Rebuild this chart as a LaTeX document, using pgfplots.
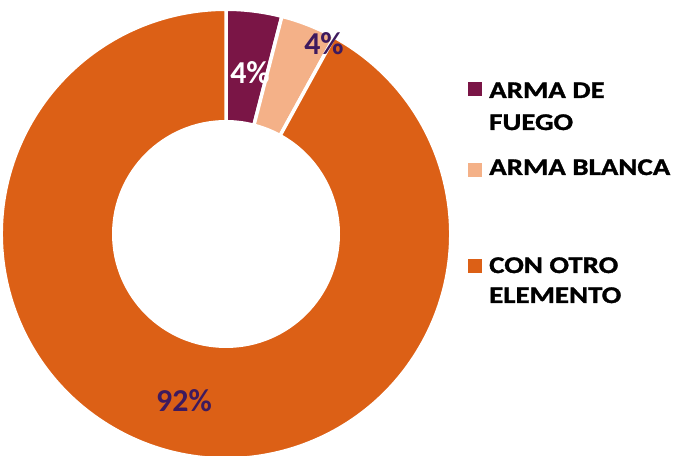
\documentclass[border=0pt]{standalone}
\usepackage{pgfplots}
\pgfplotsset{compat=1.18}
\usepackage{pgfplotstable}
\usepackage{fontspec}
\setmainfont{Carlito}
\newfontfamily\legfont[FakeStretch=1.21,FakeBold=1.3]{Carlito}
\definecolor{fuego}{RGB}{122,21,70}
\definecolor{blanca}{RGB}{244,177,136}
\definecolor{otro}{RGB}{220,96,22}
\definecolor{lbl}{RGB}{62,26,94}
\pgfplotstableread{
name value
fuego 4
blanca 4
otro 92
}\datatable
\newcommand\sector[3]{%
  \fill[#1, draw=white, line width=3.5bp]
    (axis cs:226,222) ++(#2:224.75bp) arc[start angle=#2,end angle=#3,radius=224.75bp]
    -- ++(#3:-112.5bp) arc[start angle=#3,end angle=#2,radius=112.25bp] -- cycle;}
\begin{document}
\begin{tikzpicture}
\pgfplotstablegetelem{0}{value}\of\datatable \let\va\pgfplotsretval
\pgfplotstablegetelem{1}{value}\of\datatable \let\vb\pgfplotsretval
\pgfplotstablegetelem{2}{value}\of\datatable \let\vc\pgfplotsretval
\pgfmathsetmacro\aA{90}
\pgfmathsetmacro\aB{90-3.6*\va}
\pgfmathsetmacro\aC{\aB-3.6*\vb}
\pgfmathsetmacro\aD{\aC-3.6*\vc}
\begin{axis}[width=675bp,height=456bp,scale only axis,xmin=0,xmax=675,ymin=0,ymax=456,hide axis,clip=false]
\sector{fuego}{\aA}{\aB}
\sector{blanca}{\aB}{\aC}
\sector{otro}{\aC}{\aD}
\node[text=white,font=\bfseries\fontsize{32}{38}\selectfont] at (axis cs:250,383) {\va\%};
\node[text=lbl,font=\bfseries\fontsize{32}{38}\selectfont] at (axis cs:324,412) {\vb\%};
\node[text=lbl,font=\bfseries\fontsize{32}{38}\selectfont] at (axis cs:184,55) {\vc\%};
\fill[fuego] (axis cs:468,360) rectangle (axis cs:482,374);
\fill[blanca] (axis cs:468,279) rectangle (axis cs:482,293);
\fill[otro] (axis cs:468,183) rectangle (axis cs:482,197);
\begin{scope}[every node/.style={anchor=base west,inner sep=0pt,font=\legfont\bfseries\fontsize{24}{28}\selectfont}]
\node at (axis cs:489,358) {ARMA DE};
\node at (axis cs:489,326) {FUEGO};
\node at (axis cs:489,281) {ARMA BLANCA};
\node at (axis cs:489,183) {CON OTRO};
\node at (axis cs:489,153) {ELEMENTO};
\end{scope}
\end{axis}
\pgfresetboundingbox
\path (0,0) rectangle (675bp,456bp);
\end{tikzpicture}
\end{document}
